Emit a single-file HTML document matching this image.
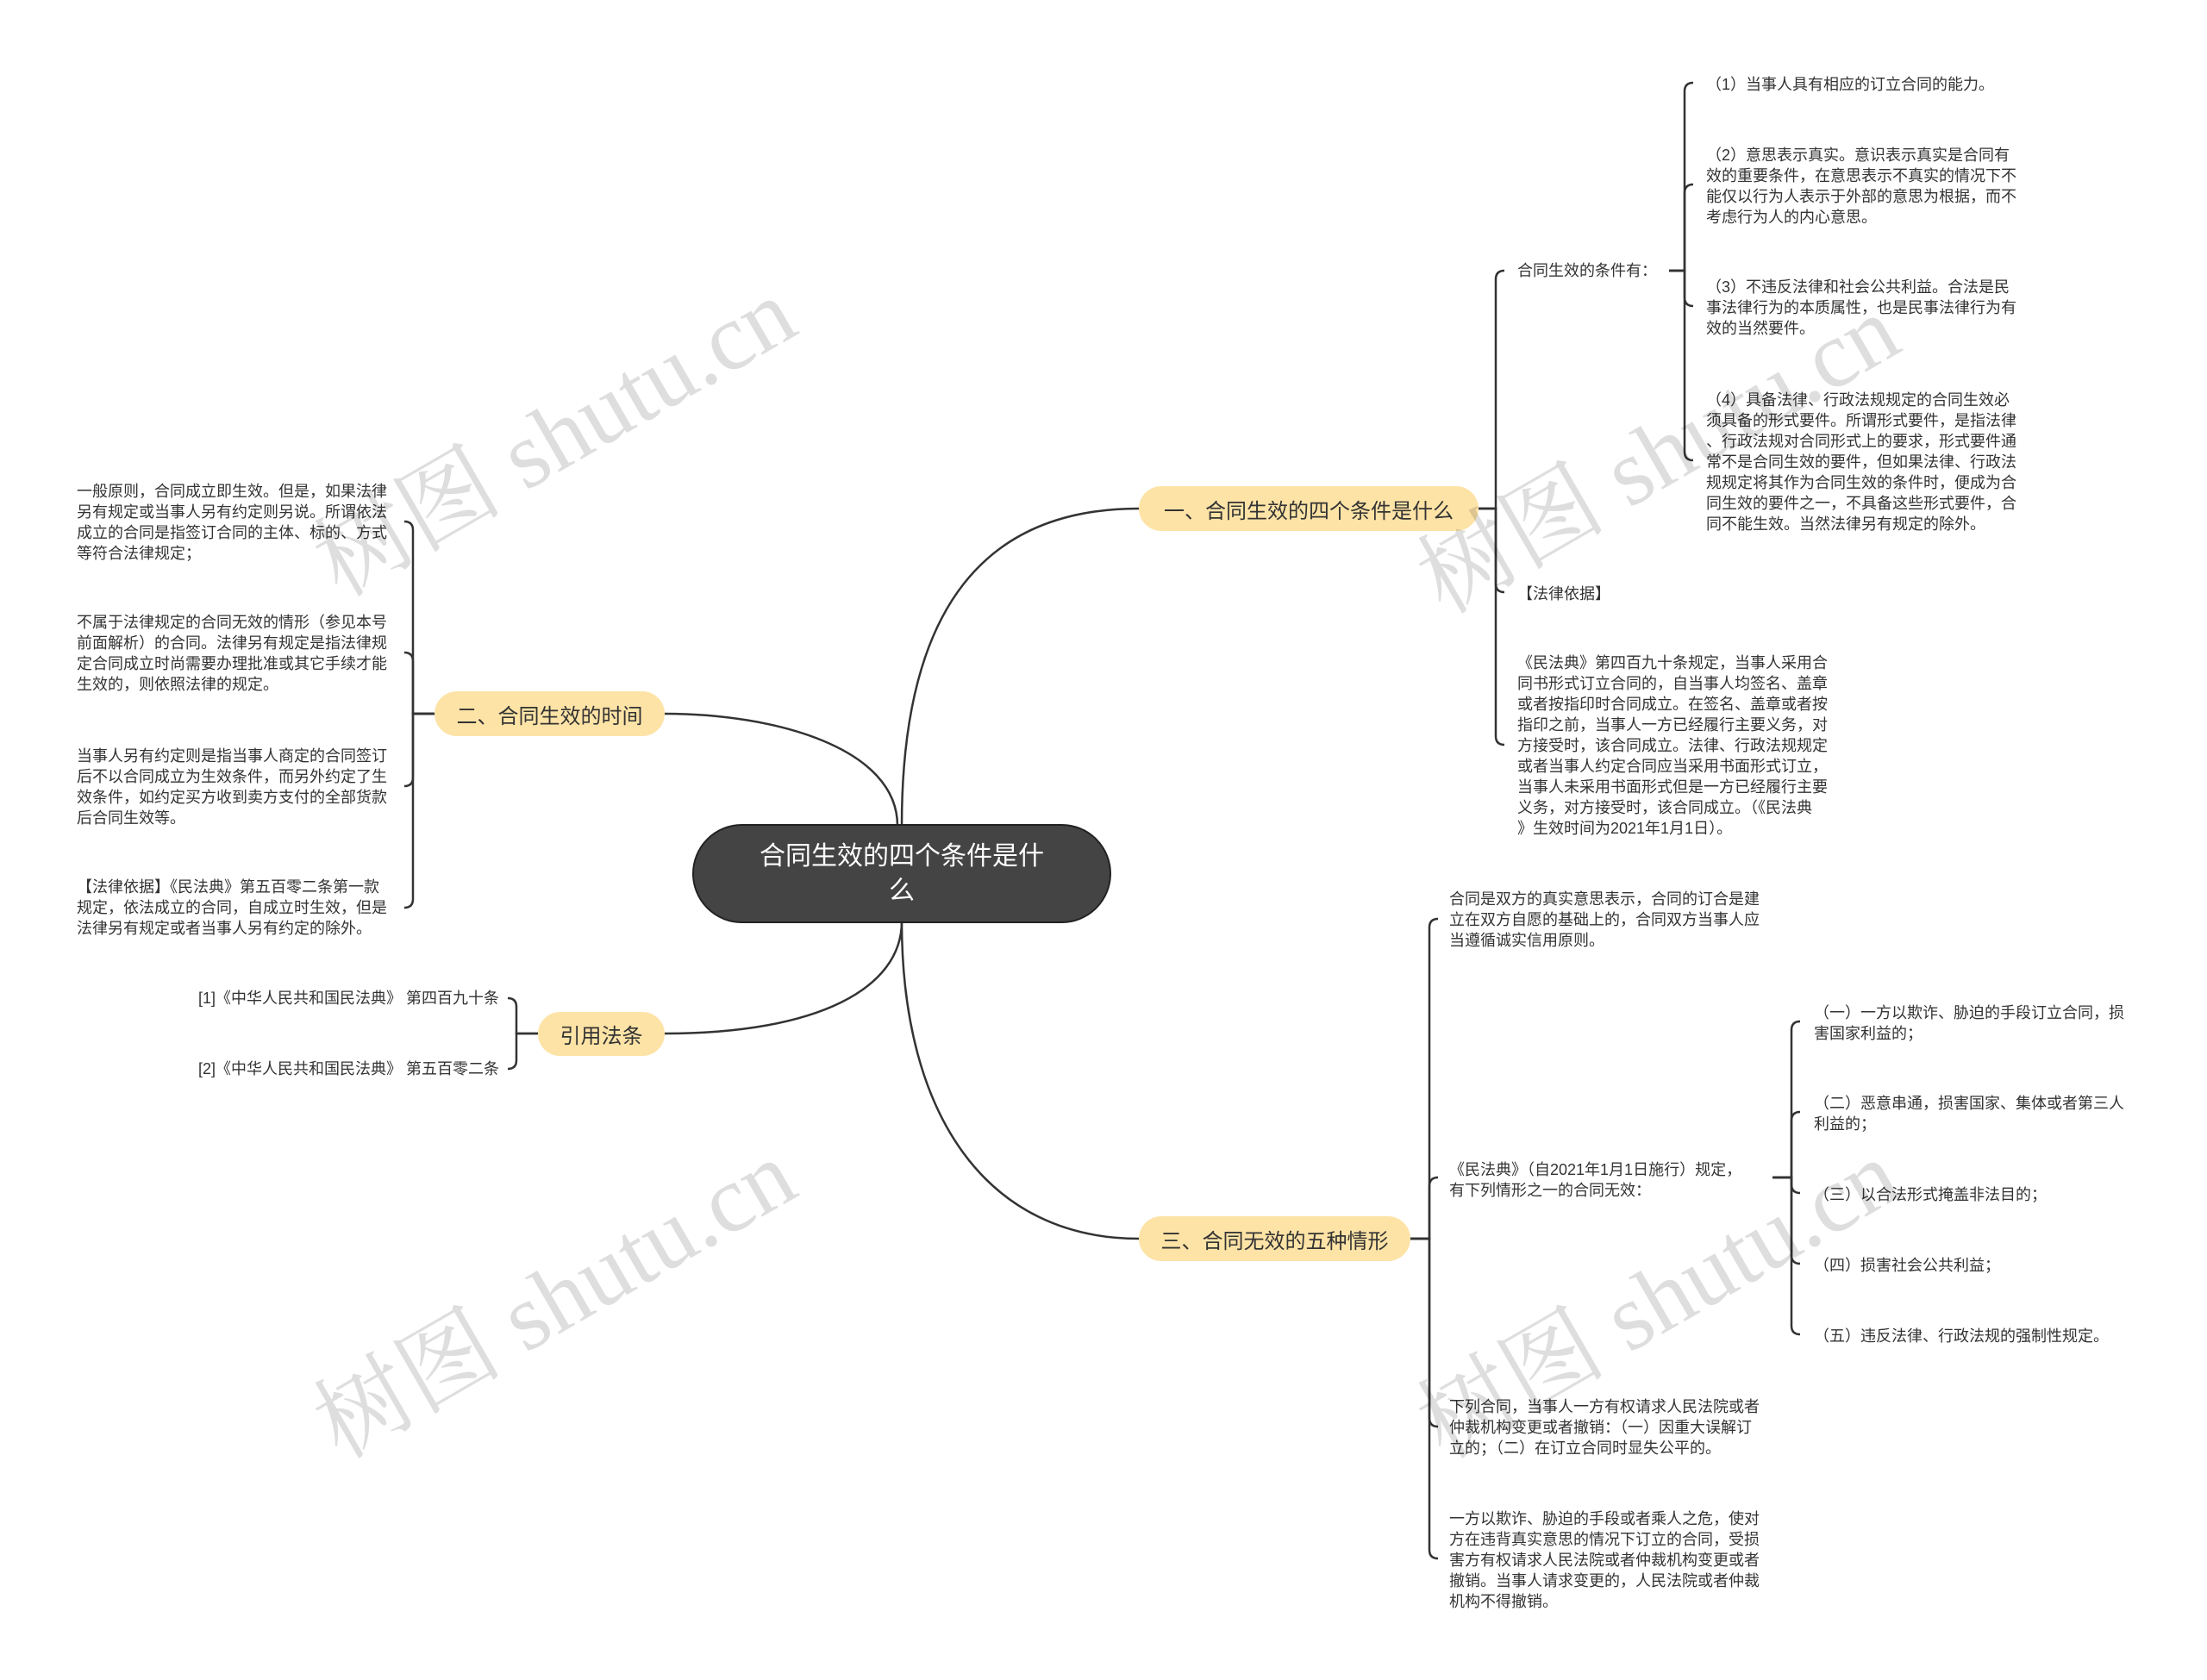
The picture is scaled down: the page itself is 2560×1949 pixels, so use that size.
<!DOCTYPE html>
<html><head><meta charset="utf-8"><style>
body{margin:0;width:2560px;height:1949px;background:#fff;position:relative;overflow:hidden;font-family:"Liberation Sans","Noto Sans CJK SC",sans-serif;color:#333}
.t{position:absolute;font-size:18px;line-height:24px;white-space:nowrap}
.b{position:absolute;background:#fde3a6;border-radius:26px;font-size:24px;display:flex;align-items:center;justify-content:center;color:#333}
.wm{position:absolute;font-family:"Liberation Serif","Noto Serif CJK SC",serif;font-size:110px;color:rgba(0,0,0,0.13);transform:rotate(-30deg);white-space:nowrap;transform-origin:center}
</style></head><body>
<svg width="2560" height="1949" style="position:absolute;left:0;top:0" fill="none" stroke="#333" stroke-width="2.5">
<path d="M1046 958 C1046 700 1146 590 1321 590"/>
<path d="M1041 958 C1041 868 900 828 771 828"/>
<path d="M1046 1069 C1046 1146 950 1199 771 1199"/>
<path d="M1046 1069 C1046 1296 1146 1437 1321 1437"/>
<path d="M1715 590 H1735 V324 Q1735 314 1745 314"/>
<path d="M1715 590 H1735 V677 Q1735 687 1745 687"/>
<path d="M1715 590 H1735 V854 Q1735 864 1745 864"/>
<path d="M1936 314 H1954 V106 Q1954 96 1964 96"/>
<path d="M1936 314 H1954 V224 Q1954 214 1964 214"/>
<path d="M1936 314 H1954 V345 Q1954 355 1964 355"/>
<path d="M1936 314 H1954 V524 Q1954 534 1964 534"/>
<path d="M1636 1437 H1658 V1076 Q1658 1066 1668 1066"/>
<path d="M1636 1437 H1658 V1376 Q1658 1366 1668 1366"/>
<path d="M1636 1437 H1658 V1645 Q1658 1655 1668 1655"/>
<path d="M1636 1437 H1658 V1798 Q1658 1808 1668 1808"/>
<path d="M2056 1366 H2078 V1195 Q2078 1185 2088 1185"/>
<path d="M2056 1366 H2078 V1300 Q2078 1290 2088 1290"/>
<path d="M2056 1366 H2078 V1374 Q2078 1384 2088 1384"/>
<path d="M2056 1366 H2078 V1456 Q2078 1466 2088 1466"/>
<path d="M2056 1366 H2078 V1538 Q2078 1548 2088 1548"/>
<path d="M504 828 H479 V615 Q479 605 469 605"/>
<path d="M504 828 H479 V767 Q479 757 469 757"/>
<path d="M504 828 H479 V902 Q479 912 469 912"/>
<path d="M504 828 H479 V1043 Q479 1053 469 1053"/>
<path d="M624 1199 H599 V1168 Q599 1158 589 1158"/>
<path d="M624 1199 H599 V1230 Q599 1240 589 1240"/>
</svg>

<div style="position:absolute;left:803px;top:956px;width:486px;height:115px;background:#444;border-radius:58px;border:2px solid #222;box-sizing:border-box;color:#fff;font-size:30px;line-height:40px;display:flex;align-items:center;justify-content:center;text-align:center">合同生效的四个条件是什<br>么</div>

<div class="b" style="left:1321px;top:564px;width:394px;height:52px">一、合同生效的四个条件是什么</div>
<div class="b" style="left:504px;top:802px;width:267px;height:52px">二、合同生效的时间</div>
<div class="b" style="left:624px;top:1174px;width:147px;height:51px">引用法条</div>
<div class="b" style="left:1321px;top:1411px;width:315px;height:52px">三、合同无效的五种情形</div>

<div class="t" style="left:1760px;top:302px">合同生效的条件有：</div>
<div class="t" style="left:1979px;top:86px">（1）当事人具有相应的订立合同的能力。</div>
<div class="t" style="left:1979px;top:168px">（2）意思表示真实。意识表示真实是合同有<br>效的重要条件，在意思表示不真实的情况下不<br>能仅以行为人表示于外部的意思为根据，而不<br>考虑行为人的内心意思。</div>
<div class="t" style="left:1979px;top:321px">（3）不违反法律和社会公共利益。合法是民<br>事法律行为的本质属性，也是民事法律行为有<br>效的当然要件。</div>
<div class="t" style="left:1979px;top:452px">（4）具备法律、行政法规规定的合同生效必<br>须具备的形式要件。所谓形式要件，是指法律<br>、行政法规对合同形式上的要求，形式要件通<br>常不是合同生效的要件，但如果法律、行政法<br>规规定将其作为合同生效的条件时，便成为合<br>同生效的要件之一，不具备这些形式要件，合<br>同不能生效。当然法律另有规定的除外。</div>
<div class="t" style="left:1760px;top:677px">【法律依据】</div>
<div class="t" style="left:1760px;top:757px">《民法典》第四百九十条规定，当事人采用合<br>同书形式订立合同的，自当事人均签名、盖章<br>或者按指印时合同成立。在签名、盖章或者按<br>指印之前，当事人一方已经履行主要义务，对<br>方接受时，该合同成立。法律、行政法规规定<br>或者当事人约定合同应当采用书面形式订立，<br>当事人未采用书面形式但是一方已经履行主要<br>义务，对方接受时，该合同成立。（《民法典<br>》生效时间为2021年1月1日）。</div>

<div class="t" style="left:1681px;top:1031px">合同是双方的真实意思表示，合同的订合是建<br>立在双方自愿的基础上的，合同双方当事人应<br>当遵循诚实信用原则。</div>
<div class="t" style="left:1681px;top:1345px">《民法典》（自2021年1月1日施行）规定，<br>有下列情形之一的合同无效：</div>
<div class="t" style="left:1681px;top:1620px">下列合同，当事人一方有权请求人民法院或者<br>仲裁机构变更或者撤销：（一）因重大误解订<br>立的；（二）在订立合同时显失公平的。</div>
<div class="t" style="left:1681px;top:1750px">一方以欺诈、胁迫的手段或者乘人之危，使对<br>方在违背真实意思的情况下订立的合同，受损<br>害方有权请求人民法院或者仲裁机构变更或者<br>撤销。当事人请求变更的，人民法院或者仲裁<br>机构不得撤销。</div>
<div class="t" style="left:2104px;top:1163px">（一）一方以欺诈、胁迫的手段订立合同，损<br>害国家利益的；</div>
<div class="t" style="left:2104px;top:1268px">（二）恶意串通，损害国家、集体或者第三人<br>利益的；</div>
<div class="t" style="left:2104px;top:1374px">（三）以合法形式掩盖非法目的；</div>
<div class="t" style="left:2104px;top:1456px">（四）损害社会公共利益；</div>
<div class="t" style="left:2104px;top:1538px">（五）违反法律、行政法规的强制性规定。</div>

<div class="t" style="left:89px;top:558px">一般原则，合同成立即生效。但是，如果法律<br>另有规定或当事人另有约定则另说。所谓依法<br>成立的合同是指签订合同的主体、标的、方式<br>等符合法律规定；</div>
<div class="t" style="left:89px;top:710px">不属于法律规定的合同无效的情形（参见本号<br>前面解析）的合同。法律另有规定是指法律规<br>定合同成立时尚需要办理批准或其它手续才能<br>生效的，则依照法律的规定。</div>
<div class="t" style="left:89px;top:865px">当事人另有约定则是指当事人商定的合同签订<br>后不以合同成立为生效条件，而另外约定了生<br>效条件，如约定买方收到卖方支付的全部货款<br>后合同生效等。</div>
<div class="t" style="left:89px;top:1017px">【法律依据】《民法典》第五百零二条第一款<br>规定，依法成立的合同，自成立时生效，但是<br>法律另有规定或者当事人另有约定的除外。</div>
<div class="t" style="right:1981px;top:1146px;text-align:right">[1]《中华人民共和国民法典》 第四百九十条</div>
<div class="t" style="right:1981px;top:1228px;text-align:right">[2]《中华人民共和国民法典》 第五百零二条</div>

<div class="wm" style="left:330px;top:420px">树图 shutu.cn</div>
<div class="wm" style="left:330px;top:1420px">树图 shutu.cn</div>
<div class="wm" style="left:1610px;top:440px">树图 shutu.cn</div>
<div class="wm" style="left:1610px;top:1420px">树图 shutu.cn</div>
</body></html>
